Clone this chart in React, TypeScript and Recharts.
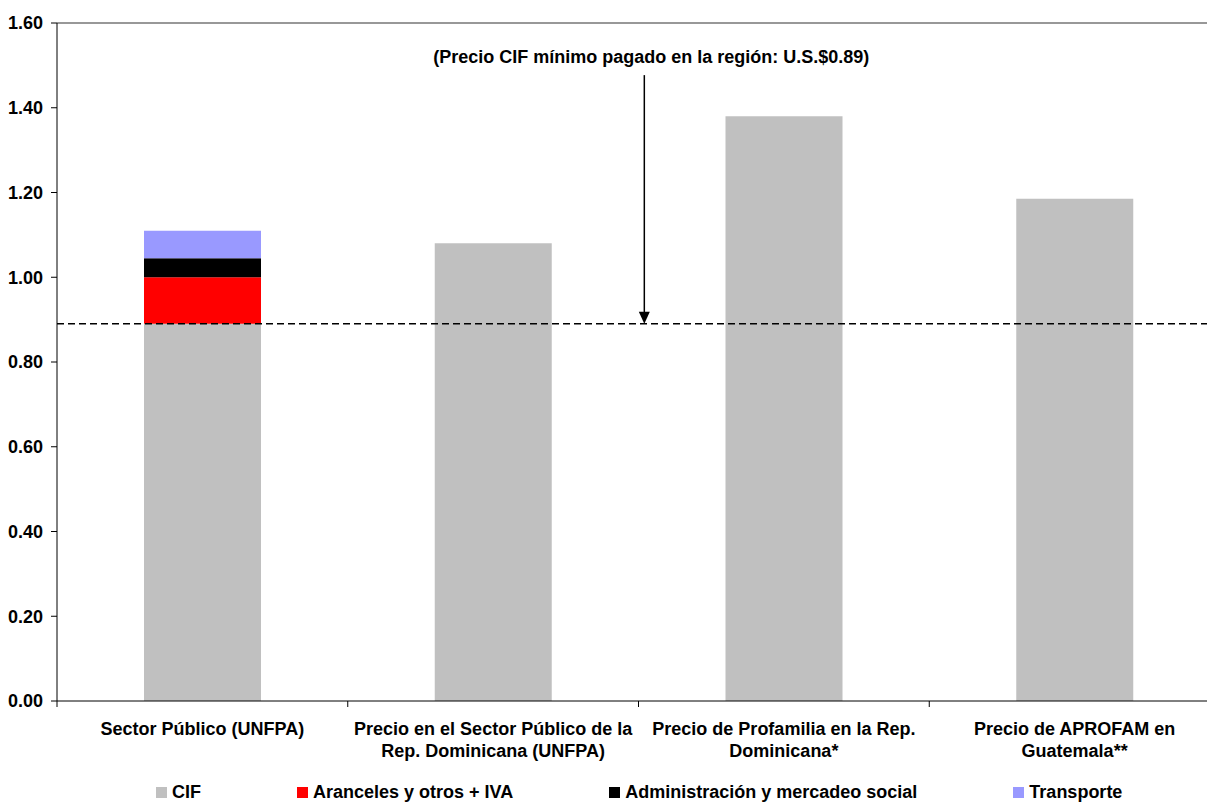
import { Bar, BarChart, Legend, ReferenceLine, XAxis, YAxis } from 'recharts';

const categoryLines = [
  ['Sector Público (UNFPA)'],
  ['Precio en el Sector Público de la', 'Rep. Dominicana (UNFPA)'],
  ['Precio de Profamilia en la Rep.', 'Dominicana*'],
  ['Precio de APROFAM en', 'Guatemala**'],
];
const categories = categoryLines.map((lines) => lines.join(' '));

const cif = [0.89, 1.08, 1.38, 1.185];
const aranceles = [0.11, null, null, null];
const administracion = [0.045, null, null, null];
const transporte = [0.065, null, null, null];

const yTicks = [0, 0.2, 0.4, 0.6, 0.8, 1.0, 1.2, 1.4, 1.6];

const minPrice = 0.89;
const annotation = '(Precio CIF mínimo pagado en la región: U.S.$0.89)';
// arrow position on a 0..4 scale across the categories, and where it starts
const arrowX = 2.02;
const arrowTopY = 1.477;

const series = [
  { key: 'cif', name: 'CIF', color: '#C0C0C0', values: cif },
  { key: 'aranceles', name: 'Aranceles y otros + IVA', color: '#FF0000', values: aranceles },
  { key: 'administracion', name: 'Administración y mercadeo social', color: '#000000', values: administracion },
  { key: 'transporte', name: 'Transporte', color: '#9999FF', values: transporte },
];

const data = categories.map((name, i) => {
  const row: Record<string, string | number | null> = { name, slot: i + 0.5 };
  series.forEach((s) => {
    row[s.key] = s.values[i];
  });
  return row;
});

const CHART_WIDTH = 1230;
const MARGIN = { top: 23, right: 10, left: 0, bottom: 0 };
const Y_WIDTH = 57;
const HALF_BAND = (CHART_WIDTH - Y_WIDTH - MARGIN.right) / categories.length / 2;

function CategoryTick(props: any) {
  const { x, y, payload } = props;
  const idx = categories.indexOf(payload.value);
  const lines = categoryLines[idx] || [payload.value];
  const axisY = y - 8;
  return (
    <g>
      <line x1={x - HALF_BAND} x2={x - HALF_BAND} y1={axisY} y2={axisY + 6} stroke="#000" />
      {idx === categories.length - 1 && (
        <line x1={x + HALF_BAND} x2={x + HALF_BAND} y1={axisY} y2={axisY + 6} stroke="#000" />
      )}
      <text x={x} y={axisY + 34} textAnchor="middle" fontWeight="bold" fontSize={18} fill="#000">
        {lines.map((l, i) => (
          <tspan key={i} x={x} dy={i === 0 ? 0 : 22}>
            {l}
          </tspan>
        ))}
      </text>
    </g>
  );
}

function ArrowNote(props: any) {
  const { x1, y1, x2, y2 } = props;
  return (
    <g>
      <line x1={x1} y1={y1} x2={x2} y2={y2 - 10} stroke="#000" strokeWidth={1.5} />
      <polygon points={`${x2 - 5.5},${y2 - 12} ${x2 + 5.5},${y2 - 12} ${x2},${y2}`} fill="#000" />
      <text x={x1 + 7} y={y1 - 12} textAnchor="middle" fontWeight="bold" fontSize={18} fill="#000">
        {annotation}
      </text>
    </g>
  );
}

function LegendContent() {
  return (
    <div
      style={{
        display: 'flex',
        alignItems: 'center',
        gap: 96,
        paddingLeft: 156,
        height: 20,
        fontWeight: 'bold',
        fontSize: 18,
        color: '#000',
        whiteSpace: 'nowrap',
      }}
    >
      {series.map((s) => (
        <div key={s.key} style={{ display: 'flex', alignItems: 'center' }}>
          <span style={{ display: 'inline-block', width: 11, height: 11, background: s.color, marginRight: 5 }} />
          {s.name}
        </div>
      ))}
    </div>
  );
}

export default function App() {
  return (
    <div
      style={{
        position: 'absolute',
        top: 0,
        left: 0,
        width: 1207,
        height: 802,
        overflow: 'hidden',
        background: '#fff',
        fontFamily: '"Liberation Sans", Arial, sans-serif',
      }}
    >
      <BarChart width={CHART_WIDTH} height={802} data={data} margin={MARGIN} barSize={117}>
        <XAxis
          dataKey="name"
          height={81}
          tickLine={false}
          tickSize={6}
          tickMargin={2}
          axisLine={{ stroke: '#000' }}
          tick={<CategoryTick />}
          interval={0}
        />
        <XAxis xAxisId="pos" dataKey="slot" type="number" domain={[0, 4]} allowDataOverflow hide />
        <YAxis
          width={Y_WIDTH}
          domain={[0, 1.6]}
          ticks={yTicks}
          interval={0}
          tickFormatter={(v: number) => v.toFixed(2)}
          tickSize={6}
          tickMargin={8}
          axisLine={{ stroke: '#000' }}
          tickLine={{ stroke: '#000' }}
          tick={{ fill: '#000', fontSize: 18, fontWeight: 'bold' }}
        />
        {series.map((s) => (
          <Bar key={s.key} dataKey={s.key} name={s.name} stackId="a" fill={s.color} isAnimationActive={false} />
        ))}
        <ReferenceLine y={1.6} stroke="#333" strokeWidth={1.2} />
        <ReferenceLine y={minPrice} stroke="#000" strokeWidth={1.5} strokeDasharray="7 4" />
        <ReferenceLine
          xAxisId="pos"
          segment={[
            { x: arrowX, y: arrowTopY },
            { x: arrowX, y: minPrice },
          ]}
          shape={<ArrowNote />}
        />
        <Legend verticalAlign="bottom" wrapperStyle={{ left: 0, bottom: 0, width: 1207 }} content={<LegendContent />} />
      </BarChart>
    </div>
  );
}
